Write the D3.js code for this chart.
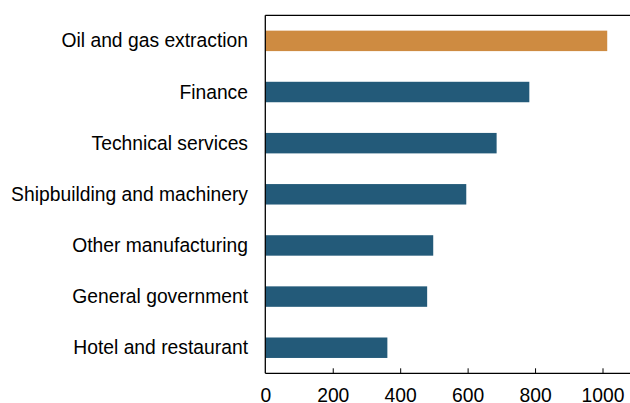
<!DOCTYPE html>
<html>
<head>
<meta charset="utf-8">
<script src="https://cdn.jsdelivr.net/npm/d3@7"></script>
<style>
  body { margin: 0; background: #fff; }
  text { font-family: "Liberation Sans", Arial, sans-serif; fill: #000; }
</style>
</head>
<body>
<script>
var categories = ["Oil and gas extraction", "Finance", "Technical services",
    "Shipbuilding and machinery", "Other manufacturing", "General government",
    "Hotel and restaurant"];
var values = [1014, 783, 686, 596, 498, 480, 362];
var highlight = ["Oil and gas extraction"];
var tick_values = [0, 200, 400, 600, 800, 1000];

var width = 630, height = 403;
var plot_left = 265.3, plot_top = 15.3, plot_bottom = 373.3;
var font_size = "19.3px";

var x = d3.scaleLinear().domain([0, 1100]).range([plot_left, plot_left + 1100 * 0.3372]);
var y = d3.scaleBand().domain(categories).range([plot_top, plot_bottom]).paddingInner(0.6).paddingOuter(0.3);

var svg = d3.select("body").append("svg")
    .attr("width", width).attr("height", height);

svg.selectAll("rect.bar")
    .data(categories)
    .enter()
    .append("rect")
    .attr("class", "bar")
    .attr("x", x(0))
    .attr("y", function(d) { return y(d); })
    .attr("width", function(d, i) { return x(values[i]) - x(0); })
    .attr("height", y.bandwidth())
    .attr("fill", function(d) { return highlight.indexOf(d) >= 0 ? "#ce8b41" : "#235a79"; });

// category labels
svg.selectAll("text.cat")
    .data(categories)
    .enter()
    .append("text")
    .attr("class", "cat")
    .attr("x", 248)
    .attr("y", function(d) { return y(d) + y.bandwidth() / 2; })
    .attr("dy", "0.34em")
    .attr("text-anchor", "end")
    .attr("font-size", font_size)
    .text(function(d) { return d; });

// frame: left and top
svg.append("line").attr("x1", plot_left).attr("x2", plot_left).attr("y1", plot_top).attr("y2", plot_bottom)
    .attr("stroke", "#000").attr("stroke-width", 1.3);
svg.append("line").attr("x1", plot_left).attr("x2", width).attr("y1", plot_top).attr("y2", plot_top)
    .attr("stroke", "#000").attr("stroke-width", 1.3);

// bottom axis, ticks pointing inward
var axis = svg.append("g")
    .attr("transform", "translate(0," + plot_bottom + ")")
    .call(d3.axisBottom(x).tickValues(tick_values).tickFormat(d3.format("d")).tickSize(0).tickPadding(0));
axis.select(".domain").remove();
axis.append("line").attr("x1", plot_left).attr("x2", width).attr("y1", 0).attr("y2", 0)
    .attr("stroke", "#000").attr("stroke-width", 1.3);
axis.selectAll(".tick line")
    .attr("y2", function(d) { return d === 0 ? 0 : -5; })
    .attr("stroke", "#000").attr("stroke-width", 1);
axis.selectAll(".tick text")
    .attr("y", 28.3)
    .attr("dy", 0)
    .attr("font-size", font_size)
    .attr("font-family", "Liberation Sans, Arial, sans-serif")
    .attr("fill", "#000");
</script>
</body>
</html>
